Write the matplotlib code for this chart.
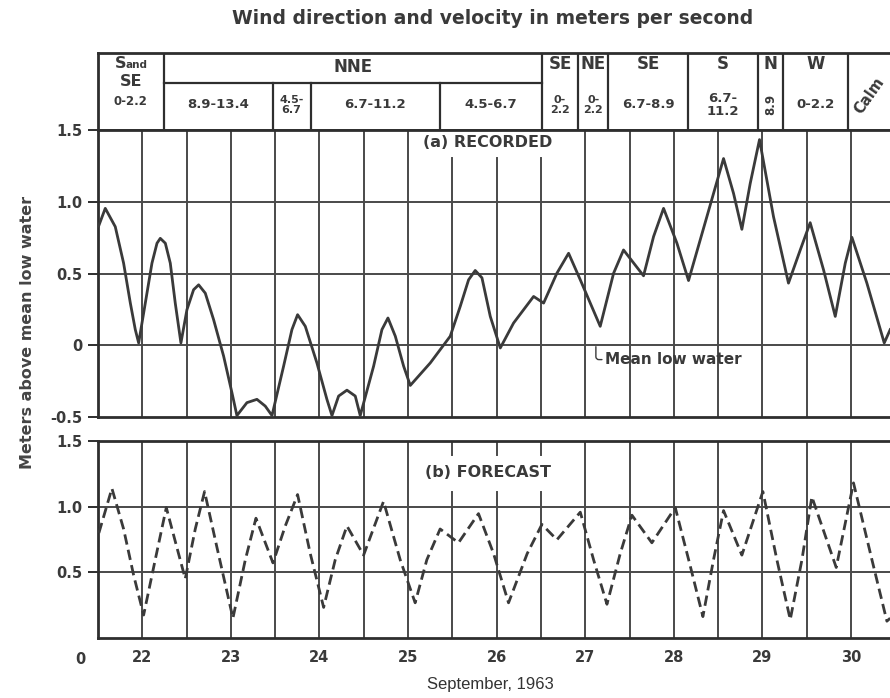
import matplotlib
matplotlib.use('Agg')
import matplotlib.pyplot as plt
import numpy as np
from matplotlib.transforms import ScaledTranslation

# ---------------- data ----------------
days = [22, 23, 24, 25, 26, 27, 28, 29, 30]

# (a) recorded water level (m above mean low water), time in days of Sept 1963
rec_t = [21.507, 21.582, 21.695, 21.789, 21.865, 21.921, 21.959, 22.034, 22.109, 22.166,
         22.203, 22.260, 22.316, 22.372, 22.436, 22.504, 22.579, 22.636, 22.711, 22.805,
         22.918, 23.012, 23.068, 23.181, 23.294, 23.388, 23.464, 23.595, 23.689, 23.753,
         23.840, 23.971, 24.084, 24.141, 24.216, 24.310, 24.404, 24.460, 24.611, 24.705,
         24.773, 24.856, 24.950, 25.025, 25.251, 25.476, 25.589, 25.683, 25.758, 25.834,
         25.928, 26.041, 26.191, 26.417, 26.530, 26.680, 26.812, 26.944, 27.169, 27.320,
         27.432, 27.658, 27.771, 27.884, 28.035, 28.166, 28.373, 28.561, 28.674, 28.768,
         28.862, 28.967, 29.125, 29.294, 29.427, 29.539, 29.690, 29.822, 29.935, 30.010,
         30.179, 30.375, 30.442]
rec_h = [0.83, 0.954, 0.826, 0.572, 0.294, 0.109, 0.016, 0.294, 0.572, 0.711,
         0.745, 0.711, 0.572, 0.294, 0.016, 0.248, 0.387, 0.421, 0.363, 0.178,
         -0.076, -0.331, -0.49, -0.40, -0.377, -0.424, -0.49, -0.146, 0.109, 0.213,
         0.132, -0.123, -0.377, -0.49, -0.354, -0.313, -0.354, -0.49, -0.146, 0.109,
         0.190, 0.063, -0.146, -0.280, -0.123, 0.063, 0.271, 0.456, 0.521, 0.470,
         0.201, -0.019, 0.155, 0.340, 0.294, 0.502, 0.641, 0.456, 0.132, 0.502,
         0.664, 0.484, 0.757, 0.954, 0.711, 0.451, 0.896, 1.301, 1.058, 0.808,
         1.127, 1.433, 0.896, 0.433, 0.664, 0.854, 0.525, 0.201, 0.572, 0.752,
         0.433, 0.016, 0.109]

# (b) forecast water level
fc_t = [21.51, 21.657, 21.789, 21.902, 22.015, 22.146, 22.271, 22.372, 22.485, 22.598,
        22.703, 22.843, 23.023, 23.163, 23.283, 23.475, 23.614, 23.753, 23.896, 24.047,
        24.178, 24.310, 24.498, 24.723, 24.911, 25.080, 25.212, 25.362, 25.569, 25.795,
        25.965, 26.134, 26.345, 26.511, 26.680, 26.944, 27.094, 27.245, 27.395, 27.527,
        27.752, 28.016, 28.185, 28.328, 28.448, 28.561, 28.768, 29.005, 29.163, 29.314,
        29.446, 29.558, 29.833, 30.028, 30.236, 30.405, 30.442]
fc_h = [0.80, 1.139, 0.83, 0.479, 0.175, 0.596, 0.993, 0.736, 0.451, 0.83,
        1.115, 0.689, 0.151, 0.596, 0.912, 0.572, 0.853, 1.092, 0.643, 0.233,
        0.596, 0.853, 0.631, 1.040, 0.596, 0.268, 0.596, 0.83, 0.725, 0.947,
        0.643, 0.268, 0.643, 0.865, 0.748, 0.958, 0.596, 0.257, 0.643, 0.935,
        0.725, 0.993, 0.549, 0.163, 0.596, 0.970, 0.631, 1.115, 0.596, 0.140,
        0.596, 1.075, 0.537, 1.181, 0.596, 0.128, 0.151]

top_yticks = [-0.5, 0, 0.5, 1.0, 1.5]
top_ylabels = ['-0.5', '0', '0.5', '1.0', '1.5']
bot_yticks = [0, 0.5, 1.0, 1.5]
bot_ylabels = ['0', '0.5', '1.0', '1.5']

# wind table
wind_dirs = ['S and\nSE', 'NNE', 'SE', 'NE', 'SE', 'S', 'N', 'W', 'Calm']
dir_start = [21.5, 22.24, 26.51, 26.92, 27.26, 28.16, 28.95, 29.23, 29.97]
dir_end = [22.24, 26.51, 26.92, 27.26, 28.16, 28.95, 29.23, 29.97, 30.44]
wind_speeds = ['0-2.2', '8.9-13.4', '4.5-\n6.7', '6.7-11.2', '4.5-6.7', '0-\n2.2',
               '0-\n2.2', '6.7-8.9', '6.7-\n11.2', '8.9', '0-2.2']
spd_start = [21.5, 22.24, 23.47, 23.90, 25.36, 26.51, 26.92, 27.26, 28.16, 28.95, 29.23]
spd_end = [22.24, 23.47, 23.90, 25.36, 26.51, 26.92, 27.26, 28.16, 28.95, 29.23, 29.97]

# ---------------- style ----------------
INK = '#3a3a3a'
GRID = '#4a4a4a'
XMIN, XMAX = 21.5, 30.44
plt.rcParams['lines.scale_dashes'] = False
plt.rcParams['font.family'] = ['DejaVu Sans']

fig = plt.figure(figsize=(8.9, 6.98), dpi=100)
fig.patch.set_facecolor('white')

L = 98 / 890
W = 1 - L
def fy(px):
    return 1 - px / 698

ax_tab = fig.add_axes([L, fy(130), W, fy(53) - fy(130)])
ax_top = fig.add_axes([L, fy(417), W, fy(130) - fy(417)])
ax_bot = fig.add_axes([L, fy(638), W, fy(441) - fy(638)])

for ax in (ax_tab, ax_top, ax_bot):
    ax.set_xlim(XMIN, XMAX)
    for s in ('top', 'bottom', 'left'):
        ax.spines[s].set_linewidth(2.0)
        ax.spines[s].set_color('#2e2e2e')
    ax.spines['right'].set_visible(False)

# ---- table ----
ax_tab.set_ylim(0, 1)
ax_tab.set_xticks([])
ax_tab.set_yticks([])
DIV = 0.61
for x0, x1, lab in zip(dir_start, dir_end, wind_dirs):
    if x0 > XMIN:
        ax_tab.axvline(x0, color='#2e2e2e', lw=1.6)
    xc = (x0 + x1) / 2
    if lab == 'NNE':
        ax_tab.axhline(DIV, xmin=(x0 - XMIN) / (XMAX - XMIN), xmax=(x1 - XMIN) / (XMAX - XMIN),
                       color='#2e2e2e', lw=1.6)
        ax_tab.text(xc, 0.82, lab, ha='center', va='center', fontsize=12, fontweight='bold', color=INK)
    elif lab.startswith('S and'):
        ax_tab.text(xc - 0.12, 0.86, 'S', ha='center', va='center', fontsize=11.5, fontweight='bold', color=INK)
        ax_tab.text(xc + 0.07, 0.85, 'and', ha='center', va='center', fontsize=7.5, fontweight='bold', color=INK)
        ax_tab.text(xc, 0.63, 'SE', ha='center', va='center', fontsize=11.5, fontweight='bold', color=INK)
    elif lab == 'Calm':
        ax_tab.text(xc, 0.45, lab, ha='center', va='center', fontsize=10.5, fontweight='bold',
                    color=INK, rotation=55)
    else:
        ax_tab.text(xc, 0.86, lab, ha='center', va='center', fontsize=12, fontweight='bold', color=INK)

for x0, x1, lab in zip(spd_start, spd_end, wind_speeds):
    xc = (x0 + x1) / 2
    narrow = (x1 - x0) < 0.5
    if x0 > XMIN and 22.3 < x0 < 26.5:
        ax_tab.axvline(x0, ymin=0, ymax=DIV, color='#2e2e2e', lw=1.6)
    if x0 == XMIN:
        ax_tab.text(xc, 0.37, lab, ha='center', va='center', fontsize=8.5, fontweight='bold', color=INK)
    elif lab == '8.9' and x0 > 28.5:
        ax_tab.text(xc, 0.33, lab, ha='center', va='center', fontsize=8.5, fontweight='bold',
                    color=INK, rotation=90)
    else:
        ax_tab.text(xc, 0.33, lab, ha='center', va='center', fontsize=8 if narrow else 9.5,
                    fontweight='bold', color=INK, linespacing=1.0)

# ---- vertical grid helpers ----
half_days = np.arange(22.0, 30.01, 0.5)
gap_lines = (25.5, 26.0, 26.5)

# ---- top panel ----
ax_top.set_ylim(-0.5, 1.5)
for y in (0, 0.5, 1.0):
    ax_top.axhline(y, color=GRID, lw=1.4, zorder=1)
for x in half_days:
    if any(abs(x - g) < 1e-6 for g in gap_lines):
        ax_top.axvline(x, ymin=0, ymax=0.902, color=GRID, lw=1.4, zorder=1)
    else:
        ax_top.axvline(x, color=GRID, lw=1.4, zorder=1)
ax_top.plot(rec_t, rec_h, color=INK, lw=2.0, solid_joinstyle='round', zorder=3)
ax_top.text(25.9, 1.41, '(a) RECORDED', ha='center', va='center', fontsize=11.5,
            fontweight='bold', color=INK)
ax_top.annotate('Mean low water', xy=(27.12, -0.01), xytext=(27.22, -0.10),
                ha='left', va='center', fontsize=11, fontweight='bold', color=INK,
                arrowprops=dict(arrowstyle='-', color=INK, lw=1.0,
                                connectionstyle='angle,angleA=0,angleB=90,rad=3',
                                shrinkA=0, shrinkB=0))
ax_top.set_yticks(top_yticks)
ax_top.set_yticklabels(top_ylabels)
ax_top.set_xticks([])

# ---- bottom panel ----
ax_bot.set_ylim(0, 1.5)
for y in (0.5, 1.0):
    ax_bot.axhline(y, color=GRID, lw=1.4, zorder=1)
for x in half_days:
    if any(abs(x - g) < 1e-6 for g in gap_lines):
        ax_bot.axvline(x, ymin=0, ymax=0.741, color=GRID, lw=1.4, zorder=1)
        ax_bot.axvline(x, ymin=0.929, ymax=1, color=GRID, lw=1.4, zorder=1)
    else:
        ax_bot.axvline(x, color=GRID, lw=1.4, zorder=1)
ax_bot.plot(fc_t, fc_h, color=INK, lw=2.0, dashes=(7.5, 3.8), zorder=3)
ax_bot.text(25.9, 1.26, '(b) FORECAST', ha='center', va='center', fontsize=11.5,
            fontweight='bold', color=INK)
ax_bot.set_yticks(bot_yticks)
ax_bot.set_yticklabels(bot_ylabels)
ax_bot.set_xticks(days)
ax_bot.set_xticklabels([str(d) for d in days])

for ax in (ax_top, ax_bot):
    ax.tick_params(axis='y', direction='out', length=7, width=1.4, color='#2e2e2e',
                   pad=4, labelsize=10.5, labelcolor=INK)
    for t in ax.get_yticklabels():
        t.set_fontweight('bold')
ax_bot.tick_params(axis='x', length=0, pad=9, labelsize=10.5, labelcolor=INK)
for t in ax_bot.get_xticklabels():
    t.set_fontweight('bold')

# move the bottom panel's "0" down to the x-label row (as in the original)
lbl0 = ax_bot.get_yticklabels()[0]
lbl0.set_transform(lbl0.get_transform() + ScaledTranslation(0.03, -0.2, fig.dpi_scale_trans))
ax_bot.yaxis.get_major_ticks()[0].tick1line.set_visible(False)

# ---- figure texts ----
fig.text(493 / 890, fy(18), 'Wind direction and velocity in meters per second',
         ha='center', va='center', fontsize=13.5, fontweight='bold', color=INK)
fig.text(28 / 890, fy(332), 'Meters above mean low water', rotation=90,
         ha='center', va='center', fontsize=11.5, fontweight='bold', color='#444444')
fig.text(490 / 890, fy(685), 'September, 1963', ha='center', va='center',
         fontsize=12, color='#333333', family='Liberation Sans')

fig.savefig('out.png', dpi=100, facecolor='white')
